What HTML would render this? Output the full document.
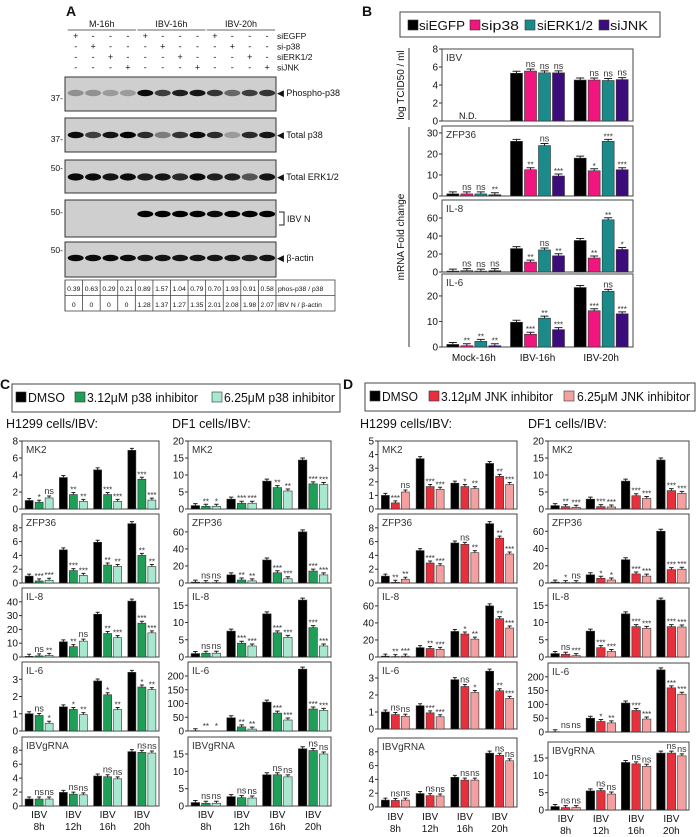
<!DOCTYPE html>
<html><head><meta charset="utf-8"><style>
html,body{margin:0;padding:0;background:#fff;}
svg{display:block;font-family:"Liberation Sans",Arial,sans-serif;}
</style></head><body>
<svg id="fig" width="696" height="837" viewBox="0 0 696 837" xmlns="http://www.w3.org/2000/svg"></svg>
<script>
// ---------- DATA ----------
// Panel A blot intensities and quantification
const laneLabels = ['M-16h','IBV-16h','IBV-20h'];
const phosRatio = ['0.39','0.63','0.29','0.21','0.89','1.57','1.04','0.79','0.70','1.93','0.91','0.58'];
const nRatio = ['0','0','0','0','1.28','1.37','1.27','1.35','2.01','2.08','1.98','2.07'];
const phosBand = [0.3,0.3,0.25,0.25,0.95,0.7,0.85,0.9,0.75,0.5,0.7,0.75];
const p38Band = [0.95,0.7,0.9,1,0.8,0.4,0.75,0.95,0.8,0.25,0.8,0.9];
const erkBand = [0.95,0.95,0.9,0.95,0.85,0.9,0.8,0.95,0.85,0.85,0.6,0.9];
const nBand = [0,0,0,0,1,1,1,1,0.95,1,1,1];
const actinBand = [0.95,0.95,0.95,0.95,0.9,0.9,0.9,0.9,0.9,0.9,0.85,0.9];

// Panel B
const bCats = ['Mock-16h','IBV-16h','IBV-20h'];
const bSeries = ['siEGFP','sip38','siERK1/2','siJNK'];
const bIBV = [[0,0,0,0],[5.3,5.55,5.35,5.35],[4.55,4.55,4.5,4.6]];
const bIBVsig = [['','','',''],['','ns','ns','ns'],['','ns','ns','ns']];
const bZFP = [[1,1,1,0.6],[26,12.5,24,9.5],[18,12,26,12.5]];
const bZFPsig = [['','ns','ns','**'],['','**','ns','***'],['','*','***','***']];
const bIL8 = [[1,1.5,1,1.5],[26,11,24.5,18],[35,15.5,58,25]];
const bIL8sig = [['','ns','ns','ns'],['','**','ns','**'],['','**','**','*']];
const bIL6 = [[1,0.5,2.2,0.5],[9.7,5,11.3,6.8],[23.3,14.2,21.8,13]];
const bIL6sig = [['','**','**','**'],['','***','**','***'],['','***','ns','***']];

// Panels C/D categories
const tCats = ['8h','12h','16h','20h'];
// C: p38 inhibitor, H1299
const cH_MK2 = [[1,0.8,1.3],[3.7,1.7,0.9],[4.6,1.7,0.9],[6.9,3.5,1.05]];
const cH_MK2s = [['','*','ns'],['','**','**'],['','***','***'],['','***','***']];
const cH_ZFP = [[1,0.3,0.4],[4.8,1.8,1.1],[5.9,2.6,2.4],[8.6,4,2.4]];
const cH_ZFPs = [['','***','***'],['','***','***'],['','**','**'],['','**','**']];
const cH_IL8 = [[0.5,0.8,1.2],[11,7.5,11.5],[31,17,14],[40.5,24.5,17.5]];
const cH_IL8s = [['','ns','**'],['','**','ns'],['','**','***'],['','***','***']];
const cH_IL6 = [[1,0.9,0.45],[1.4,1.25,0.95],[2.9,2.1,1.25],[3.4,2.55,2.4]];
const cH_IL6s = [['','ns','*'],['','*','**'],['','*','**'],['','*','**']];
const cH_IBV = [[1,1,1],[1.95,1.7,1.6],[4.3,4.2,3.9],[7.8,7.7,7.6]];
// C: DF1
const cD_MK2 = [[1,0.8,0.8],[2.9,1.7,1.7],[8.2,6.3,5.3],[14.4,7.4,7.2]];
const cD_MK2s = [['','**','*'],['','***','***'],['','**','**'],['','***','***']];
const cD_ZFP = [[1,0.5,0.5],[9.5,3.5,2.5],[27,12,5],[60,14,9.5]];
const cD_ZFPs = [['','ns','ns'],['','**','**'],['','***','***'],['','***','***']];
const cD_IL8 = [[1,1.1,1.1],[7.5,4,3.2],[12.5,7,5.7],[16.5,8.5,3.2]];
const cD_IL8s = [['','ns','ns'],['','***','***'],['','***','***'],['','***','***']];
const cD_IL6 = [[1,0,0],[48,15,7],[105,65,40],[225,80,75]];
const cD_IL6s = [['','**','*'],['','**','**'],['','***','***'],['','***','***']];
const cD_IBV = [[1,0.8,0.8],[2.7,2.4,2.3],[9,9,8.4],[16.5,16,15]];
// D: JNK inhibitor, H1299
const dH_MK2 = [[1,0.45,1.25],[3.7,1.65,1.45],[1.9,1.65,1.5],[3.35,2.4,1.8]];
const dH_MK2s = [['','***','ns'],['','***','***'],['','*','**'],['','**','***']];
const dH_ZFP = [[1,0.1,0.55],[4.7,2.9,2.5],[5.8,5.6,4.4],[8.6,6.5,4.2]];
const dH_ZFPs = [['','**','**'],['','***','***'],['','ns','**'],['','**','***']];
const dH_IL8 = [[1,0.5,1],[11,10,9],[30,27,21],[60,45,34]];
const dH_IL8s = [['','**','***'],['','**','***'],['','*','**'],['','**','***']];
const dH_IL6 = [[1,0.85,0.75],[1.37,0.95,0.72],[2.9,2.5,2.15],[3.4,2.25,1.8]];
const dH_IL6s = [['','ns','ns'],['','***','***'],['','ns','*'],['','**','***']];
const dH_IBV = [[1,0.95,1],[1.95,1.65,1.6],[4.3,3.9,3.9],[7.8,7.5,6.7]];
// D: DF1
const dD_MK2 = [[1,0.7,0.5],[2.9,0.7,0.6],[8.2,3.9,3.1],[14.4,5.4,4.6]];
const dD_MK2s = [['','**','***'],['','***','***'],['','***','***'],['','***','***']];
const dD_ZFP = [[1,0.5,0.5],[9.5,5.5,3.5],[27,10.5,8],[60,15.5,16]];
const dD_ZFPs = [['','*','ns'],['','*','*'],['','***','***'],['','***','***']];
const dD_IL8 = [[1,0.8,0.4],[7.5,2.7,1.6],[12.5,8.8,8.3],[16.5,8.8,8.7]];
const dD_IL8s = [['','ns','***'],['','***','***'],['','***','***'],['','***','***']];
const dD_IL6 = [[1,0,0],[50,38,33],[105,78,47],[225,160,137]];
const dD_IL6s = [['','ns','ns'],['','*','**'],['','***','***'],['','***','***']];
const dD_IBV = [[1,0.7,0.7],[5.5,5.6,4.6],[13.7,13.3,12.6],[16.4,16.4,15.6]];
const nsSig = [['','ns','ns'],['','ns','ns'],['','ns','ns'],['','ns','ns']];

// tick label arrays
const tk0_8 = [0,2,4,6,8], tk0_5 = [0,1,2,3,4,5], tk0_40 = [0,10,20,30,40], tk0_3 = [0,1,2,3];
const tk0_20 = [0,5,10,15,20], tk0_60 = [0,20,40,60], tk0_15 = [0,5,10,15], tk0_200 = [0,50,100,150,200];
const tk0_60b = [0,20,40,60], tkB30 = [0,10,20,30], tkB20 = [0,10,20];

// ---------- HELPERS ----------
const svg = document.getElementById('fig');
const NS = 'http://www.w3.org/2000/svg';
function el(tag, attrs, parent) {
  const e = document.createElementNS(NS, tag);
  for (const k in attrs) e.setAttribute(k, attrs[k]);
  (parent || svg).appendChild(e);
  return e;
}
function txt(x, y, s, size, anchor, parent) {
  const t = el('text', {x: x, y: y, 'font-size': size, 'text-anchor': anchor || 'start', fill: '#111'}, parent);
  t.textContent = s;
  return t;
}

function barChart(name, x0, x1, yTop, yZero, ymax, ticks, data, sig, colors, barW, gap, title, cats, catY, twoLine) {
  const g = el('g', {});
  
  
  const h = yZero - yTop;
  const y = v => yZero - v / ymax * h;
  const nG = data.length, gw = (x1 - x0) / nG, nb = data[0].length, pitch = barW + gap;
  const frame = el('rect', {x: x0, y: yTop, width: x1 - x0, height: h, fill: 'none', stroke: '#444', 'stroke-width': 1}, g);
  
  
  for (const tv of ticks) {
    const ty = y(tv);
    const tl = el('line', {x1: x0 - 3, x2: x0, y1: ty, y2: ty, stroke: '#333', 'stroke-width': 1}, g);
    
    
    const tt = txt(x0 - 4, ty + 3.5, String(tv), 10, 'end', g);
    
    
  }
  if (title) {
    const tt = txt(x0 + 4, yTop + 12, title, 10, 'start', g);
    tt.setAttribute('fill', '#333');
    
    
  }
  for (let i = 0; i < nG; i++) {
    const cx = x0 + gw * (i + 0.5);
    for (let b = 0; b < nb; b++) {
      const v = data[i][b];
      const bx = cx - nb * pitch / 2 + b * pitch + gap / 2;
      const by = y(v);
      if (v > 0) {
        const r = el('rect', {x: bx, y: by, width: barW, height: yZero - by, fill: colors[b], stroke: '#333', 'stroke-width': 0.6}, g);
        
        
        const eb = el('path', {d: 'M' + (bx + barW / 2) + ' ' + by + 'V' + (by - 2) + 'M' + (bx + 2) + ' ' + (by - 2) + 'H' + (bx + barW - 2), stroke: '#222', 'stroke-width': 1, fill: 'none'}, g);
        
        
      }
      const s = sig[i][b];
      if (s) {
        const st = txt(bx + barW / 2, by - (s === 'ns' ? 4 : 2), s, s === 'ns' ? 9 : 8, 'middle', g);
        st.setAttribute('fill', '#333');
        
        
      }
    }
    if (cats) {
      if (twoLine) {
        const a = txt(cx, catY, 'IBV', 10, 'middle', g);
        
        
        const bb = txt(cx, catY + 12, cats[i], 10, 'middle', g);
        
        
      } else {
        const a = txt(cx, catY, cats[i], 10, 'middle', g);
        
        
      }
    }
  }
  return g;
}

function legend(name, bx, by, bw, bh, items, colors, sqX, txX, txW, baseY, fs) {
  const g = el('g', {});
  
  
  const r = el('rect', {x: bx, y: by, width: bw, height: bh, fill: '#fff', stroke: '#444', 'stroke-width': 1}, g);
  
  
  for (let i = 0; i < items.length; i++) {
    const s = el('rect', {x: sqX[i], y: baseY - 10, width: 10, height: 10, fill: colors[i], stroke: '#333', 'stroke-width': 0.6}, g);
    
    
    const t = txt(txX[i], baseY, items[i], fs, 'start', g);
    t.setAttribute('textLength', txW[i]);
    t.setAttribute('lengthAdjust', 'spacingAndGlyphs');
    
    
  }
}

// ---------- PANEL LETTERS ----------
[['A', 66, 16], ['B', 362, 16], ['C', 0, 389], ['D', 343, 389]].forEach(p => {
  const t = txt(p[1], p[2], p[0], 14, 'start');
  t.setAttribute('font-weight', 'bold');
  
  
});

// ---------- PANEL A ----------
const lx0 = 67, lw = 17.4;
const lc = i => lx0 + lw * (i + 0.5);
for (let k = 0; k < 3; k++) {
  const cx = (lc(k * 4) + lc(k * 4 + 3)) / 2;
  const t = txt(cx, 27, laneLabels[k], 9, 'middle');
  
  
  const l = el('line', {x1: lc(k * 4) - 8, x2: lc(k * 4 + 3) + 8, y1: 30, y2: 30, stroke: '#333', 'stroke-width': 0.8});
  
  
}
const siNames = ['siEGFP', 'si-p38', 'siERK1/2', 'siJNK'];
for (let r = 0; r < 4; r++) {
  const yy = 39 + r * 10.5;
  for (let i = 0; i < 12; i++) {
    const t = txt(lc(i), yy, (i % 4 === r) ? '+' : '-', 9, 'middle');
    
    
  }
  const t = txt(277, yy, siNames[r], 8.5, 'start');
  
  
}
function blot(name, y0, y1, bandY, bands, label, mws, bandH) {
  const g = el('g', {});
  
  
  const r = el('rect', {x: 65, y: y0, width: 211, height: y1 - y0, fill: '#cfcfcf', stroke: '#333', 'stroke-width': 1}, g);
  
  
  for (let i = 0; i < 12; i++) {
    if (bands[i] <= 0) continue;
    const e = el('ellipse', {cx: lc(i), cy: bandY, rx: 8, ry: bandH || 3.2, fill: '#000', opacity: bands[i]}, g);
    
    
  }
  for (const m of mws) {
    const t = txt(63, m[1], m[0] + '-', 8.5, 'end', g);
    
    
  }
  if (label) {
    const t = txt(277, bandY + 3, '◀ ' + label, 9, 'start', g);
    
    
  }
}
blot('phospho-p38-blot', 77, 111, 93, phosBand, 'Phospho-p38', [['37', 101]]);
blot('total-p38-blot', 118, 152, 135, p38Band, 'Total p38', [['37', 142]]);
blot('total-erk-blot', 160, 193, 177, erkBand, 'Total ERK1/2', [['50', 171]], 3.6);
blot('ibv-n-blot', 200, 237, 214, nBand, '', [['50', 215]]);
blot('beta-actin-blot', 242, 277, 258, actinBand, 'β-actin', [['50', 253]]);
const br = el('path', {d: 'M279 212H284V225H279', fill: 'none', stroke: '#222', 'stroke-width': 1});


const bnl = txt(287, 222, 'IBV N', 9, 'start');


// quant table
const tg = el('g', {});


const tb = el('rect', {x: 65, y: 280, width: 270, height: 31, fill: '#fff', stroke: '#444', 'stroke-width': 0.8}, tg);


const hl = el('line', {x1: 65, x2: 335, y1: 295.5, y2: 295.5, stroke: '#444', 'stroke-width': 0.8}, tg);


for (let i = 0; i <= 12; i++) {
  const vl = el('line', {x1: 65 + 17.58 * i, x2: 65 + 17.58 * i, y1: 280, y2: 311, stroke: '#444', 'stroke-width': 0.8}, tg);
  
  
}
for (let i = 0; i < 12; i++) {
  const a = txt(65 + 17.58 * (i + 0.5), 291, phosRatio[i], 6.8, 'middle', tg);
  
  
  const b = txt(65 + 17.58 * (i + 0.5), 307, nRatio[i], 6.8, 'middle', tg);
  
  
}
const r1 = txt(278, 291, 'phos-p38 / p38', 6.8, 'start', tg);


const r2 = txt(278, 307, 'IBV N / β-actin', 6.8, 'start', tg);



// ---------- PANEL B ----------
const bColors = ['#000000', '#f0157f', '#1b8a8a', '#3d0c7c'];
legend('legend-b', 400, 12, 260, 25, bSeries, bColors, [408, 470, 525, 599], [419, 481, 537, 610], [46, 38, 56, 38], 30, 13);
barChart('chart-b-ibv-titer', 442, 633, 49, 121, 8, tk0_8, bIBV, bIBVsig, bColors, 12, 2, 'IBV', null, 0, false);
const nd = txt(468, 119, 'N.D.', 9, 'middle');


barChart('chart-b-zfp36', 442, 633, 126, 196, 33.3, tkB30, bZFP, bZFPsig, bColors, 12, 2, 'ZFP36', null, 0, false);
barChart('chart-b-il8', 442, 633, 200, 272, 80, tk0_60b, bIL8, bIL8sig, bColors, 12, 2, 'IL-8', null, 0, false);
barChart('chart-b-il6', 442, 633, 274, 347, 28.6, tkB20, bIL6, bIL6sig, bColors, 12, 2, 'IL-6', bCats, 361, false);
const al1 = el('line', {x1: 409, x2: 409, y1: 48, y2: 120, stroke: '#333', 'stroke-width': 1});


const al2 = el('line', {x1: 409, x2: 409, y1: 127, y2: 347, stroke: '#333', 'stroke-width': 1});


const yt1 = txt(0, 0, 'log TCID50 / ml', 10, 'middle');
yt1.setAttribute('transform', 'translate(404,85) rotate(-90)');


const yt2 = txt(0, 0, 'mRNA Fold change', 10, 'middle');
yt2.setAttribute('transform', 'translate(404,237) rotate(-90)');



// ---------- PANEL C ----------
const cColors = ['#000000', '#1f9e58', '#a8e8cf'];
legend('legend-c', 12, 384, 328, 28, ['DMSO', '3.12μM p38 inhibitor', '6.25μM p38 inhibitor'], cColors, [16, 75, 212], [28, 87, 224], [37, 111, 111], 402, 13);
const chH = txt(6, 428, 'H1299 cells/IBV:', 12.5, 'start');


const cdH = txt(172, 428, 'DF1 cells/IBV:', 12.5, 'start');


barChart('chart-c-h1299-mk2', 22, 159, 441, 509, 8, tk0_8, cH_MK2, cH_MK2s, cColors, 8, 2, 'MK2', null, 0, false);
barChart('chart-c-h1299-zfp36', 22, 159, 514, 583, 10, tk0_8, cH_ZFP, cH_ZFPs, cColors, 8, 2, 'ZFP36', null, 0, false);
barChart('chart-c-h1299-il8', 22, 159, 588, 657, 50, tk0_40, cH_IL8, cH_IL8s, cColors, 8, 2, 'IL-8', null, 0, false);
barChart('chart-c-h1299-il6', 22, 159, 662, 731, 4, tk0_3, cH_IL6, cH_IL6s, cColors, 8, 2, 'IL-6', null, 0, false);
barChart('chart-c-h1299-ibvgrna', 22, 159, 737, 806, 9.9, tk0_8, cH_IBV, nsSig, cColors, 8, 2, 'IBVgRNA', tCats, 818, true);
barChart('chart-c-df1-mk2', 188, 331, 441, 509, 20, tk0_20, cD_MK2, cD_MK2s, cColors, 8.5, 2, 'MK2', null, 0, false);
barChart('chart-c-df1-zfp36', 188, 331, 514, 583, 81, tk0_60, cD_ZFP, cD_ZFPs, cColors, 8.5, 2, 'ZFP36', null, 0, false);
barChart('chart-c-df1-il8', 188, 331, 588, 657, 20, tk0_15, cD_IL8, cD_IL8s, cColors, 8.5, 2, 'IL-8', null, 0, false);
barChart('chart-c-df1-il6', 188, 331, 662, 731, 251, tk0_200, cD_IL6, cD_IL6s, cColors, 8.5, 2, 'IL-6', null, 0, false);
barChart('chart-c-df1-ibvgrna', 188, 331, 737, 806, 19.9, tk0_15, cD_IBV, nsSig, cColors, 8.5, 2, 'IBVgRNA', tCats, 818, true);

// ---------- PANEL D ----------
const dColors = ['#000000', '#e8303c', '#f5a0a0'];
legend('legend-d', 365, 383, 330, 28, ['DMSO', '3.12μM JNK inhibitor', '6.25μM JNK inhibitor'], dColors, [370, 429, 564], [382, 441, 577], [36, 112, 113], 401, 13);
const dhH = txt(360, 428, 'H1299 cells/IBV:', 12.5, 'start');


const ddH = txt(528, 428, 'DF1 cells/IBV:', 12.5, 'start');


barChart('chart-d-h1299-mk2', 378, 517, 441, 509, 5, tk0_5, dH_MK2, dH_MK2s, dColors, 8, 2, 'MK2', null, 0, false);
barChart('chart-d-h1299-zfp36', 378, 517, 514, 583, 10, tk0_8, dH_ZFP, dH_ZFPs, dColors, 8, 2, 'ZFP36', null, 0, false);
barChart('chart-d-h1299-il8', 378, 517, 588, 657, 81, tk0_60, dH_IL8, dH_IL8s, dColors, 8, 2, 'IL-8', null, 0, false);
barChart('chart-d-h1299-il6', 378, 517, 662, 729, 3.94, tk0_3, dH_IL6, dH_IL6s, dColors, 8, 2, 'IL-6', null, 0, false);
barChart('chart-d-h1299-ibvgrna', 378, 517, 738, 807, 10, tk0_8, dH_IBV, nsSig, dColors, 8, 2, 'IBVgRNA', tCats, 820, true);
barChart('chart-d-df1-mk2', 548, 689, 441, 509, 20, tk0_20, dD_MK2, dD_MK2s, dColors, 8.5, 2, 'MK2', null, 0, false);
barChart('chart-d-df1-zfp36', 548, 689, 514, 583, 80, tk0_60, dD_ZFP, dD_ZFPs, dColors, 8.5, 2, 'ZFP36', null, 0, false);
barChart('chart-d-df1-il8', 548, 689, 588, 657, 20, tk0_15, dD_IL8, dD_IL8s, dColors, 8.5, 2, 'IL-8', null, 0, false);
barChart('chart-d-df1-il6', 548, 689, 663, 732, 250, tk0_200, dD_IL6, dD_IL6s, dColors, 8.5, 2, 'IL-6', null, 0, false);
barChart('chart-d-df1-ibvgrna', 548, 689, 742, 810, 19.6, tk0_15, dD_IBV, nsSig, dColors, 8.5, 2, 'IBVgRNA', tCats, 822, true);
</script>
</body></html>
